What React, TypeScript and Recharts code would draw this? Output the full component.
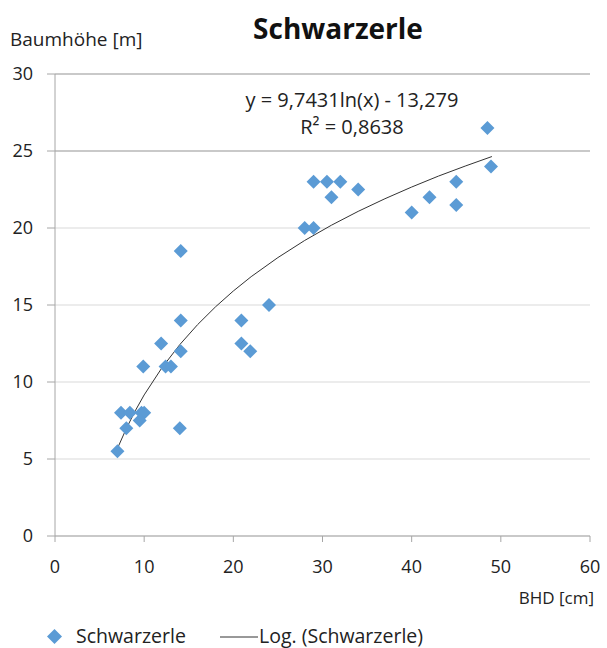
import React from 'react'
import { ScatterChart, Scatter, XAxis, YAxis, CartesianGrid, ReferenceLine } from 'recharts'

// BHD [cm] vs Baumhöhe [m]
const BHD = [7, 8, 7.4, 8.4, 9.7, 10, 9.5, 14, 9.9, 12.4, 13, 11.9, 14.1, 14.1, 14.1, 20.9, 20.9, 21.9, 24, 28, 29, 29, 30.5, 32, 31, 34, 40, 42, 45, 45, 48.5, 48.9]
const HOEHE = [5.5, 7, 8, 8, 8, 8, 7.5, 7, 11, 11, 11, 12.5, 12, 14, 18.5, 14, 12.5, 12, 15, 20, 20, 23, 23, 23, 22, 22.5, 21, 22, 23, 21.5, 26.5, 24]

// logarithmic trend line (Log. (Schwarzerle)), sampled along the drawn curve
const TREND_X = [7, 8, 9, 10, 12, 14, 16, 18, 20, 22, 25, 28, 31, 34, 37, 40, 43, 46, 49]
const TREND_Y = [5.68, 6.98, 8.13, 9.16, 10.93, 12.43, 13.73, 14.88, 15.91, 16.84, 18.08, 19.19, 20.18, 21.08, 21.9, 22.66, 23.37, 24.02, 24.64]

const X_TICKS = [0, 10, 20, 30, 40, 50, 60]
const Y_TICKS = [0, 5, 10, 15, 20, 25, 30]

const points = BHD.map((x, i) => ({ x, y: HOEHE[i] }))
const trend = TREND_X.map((x, i) => ({ x, y: TREND_Y[i] }))

const FONT = '"Open Sans", "Noto Sans", sans-serif'
const BLUE = '#5b9bd5'

function Diamond(props: any) {
  const { cx, cy } = props
  const r = 7
  return <path d={`M${cx},${cy - r} L${cx + r},${cy} L${cx},${cy + r} L${cx - r},${cy} Z`} fill={BLUE} />
}

const label = (style: React.CSSProperties): React.CSSProperties => ({
  position: 'absolute',
  fontFamily: FONT,
  color: '#222',
  whiteSpace: 'nowrap',
  lineHeight: 1,
  ...style,
})

export default function App() {
  return (
    <div style={{ position: 'absolute', left: 0, top: 0, width: 607, height: 648, background: '#fff' }}>
      <ScatterChart width={607} height={648} margin={{ top: 74, right: 17, bottom: 82, left: 0 }}>
        <CartesianGrid vertical={false} stroke="#d9d9d9" />
        <ReferenceLine y={25} stroke="#a6a6a6" />
        <ReferenceLine y={30} stroke="#a6a6a6" />
        <XAxis
          type="number"
          dataKey="x"
          domain={[0, 60]}
          ticks={X_TICKS}
          height={30}
          stroke="#a6a6a6"
          tickSize={6}
          tickMargin={18}
          tick={{ fill: '#222', fontSize: 18, fontFamily: FONT }}
        />
        <YAxis
          type="number"
          dataKey="y"
          domain={[0, 30]}
          ticks={Y_TICKS}
          width={55}
          stroke="#a6a6a6"
          tickSize={8}
          tickMargin={14}
          tick={{ fill: '#222', fontSize: 18, fontFamily: FONT }}
        />
        <Scatter
          data={trend}
          line={{ stroke: '#333', strokeWidth: 1 }}
          lineType="joint"
          shape={() => <g />}
          isAnimationActive={false}
          legendType="none"
        />
        <Scatter data={points} shape={Diamond} isAnimationActive={false} />
      </ScatterChart>

      <div style={label({ left: 0, width: 676, top: 14, textAlign: 'center', fontSize: 28, fontWeight: 700, color: '#111' })}>
        Schwarzerle
      </div>
      <div style={label({ left: 10, top: 30, fontSize: 19 })}>Baumhöhe [m]</div>
      <div style={label({ left: 440, width: 154, top: 589, textAlign: 'right', fontSize: 17 })}>BHD [cm]</div>

      <div style={label({ left: 202, width: 300, top: 90, textAlign: 'center', fontSize: 20 })}>
        y = 9,7431ln(x) - 13,279
      </div>
      <div style={label({ left: 202, width: 300, top: 117, textAlign: 'center', fontSize: 20 })}>
        R² = 0,8638
      </div>

      <svg style={{ position: 'absolute', left: 47, top: 629 }} width={15} height={15}>
        <path d="M7.5,0 L15,7.5 L7.5,15 L0,7.5 Z" fill={BLUE} />
      </svg>
      <div style={label({ left: 76, top: 626, fontSize: 19.5 })}>Schwarzerle</div>
      <svg style={{ position: 'absolute', left: 220, top: 636 }} width={38} height={3}>
        <line x1={0} y1={1} x2={38} y2={1} stroke="#333" strokeWidth={1} />
      </svg>
      <div style={label({ left: 259, top: 626, fontSize: 19.5 })}>Log. (Schwarzerle)</div>
    </div>
  )
}
